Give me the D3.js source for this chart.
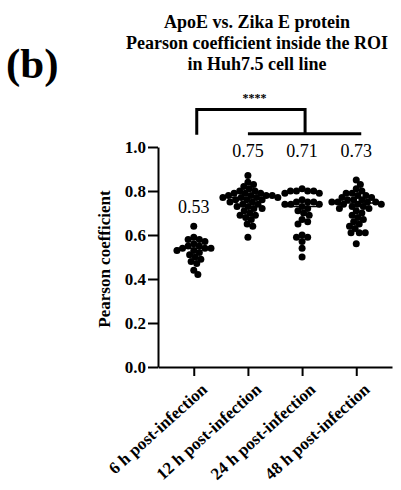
<!DOCTYPE html>
<html>
<head>
<meta charset="utf-8">
<script src="https://cdn.jsdelivr.net/npm/d3@7"></script>
<style>
  body { margin: 0; background: #fff; }
  text { font-family: "Liberation Serif", "Times New Roman", serif; }
</style>
</head>
<body>
<script>
// groups and values
var groups = ["6 h post-infection", "12 h post-infection", "24 h post-infection", "48 h post-infection"];
var meanLabels = ["0.53", "0.75", "0.71", "0.73"];
var centreLines = [0.54, 0.77, 0.73, 0.745];

var h6 = [0.64, 0.59, 0.58, 0.58, 0.57, 0.56, 0.55, 0.55, 0.54, 0.54, 0.54, 0.53, 0.53,
          0.52, 0.51, 0.50, 0.49, 0.48, 0.47, 0.44, 0.42];
var h12 = [0.87, 0.84, 0.83, 0.82, 0.81, 0.80, 0.80, 0.79, 0.79, 0.79, 0.78, 0.78, 0.78, 0.78,
           0.77, 0.77, 0.77, 0.77, 0.76, 0.76, 0.76, 0.75, 0.75, 0.74, 0.74, 0.73, 0.73,
           0.72, 0.72, 0.71, 0.70, 0.69, 0.69, 0.68, 0.67, 0.65, 0.64, 0.59];
var h24 = [0.81, 0.80, 0.80, 0.80, 0.80, 0.79, 0.79, 0.76, 0.75, 0.75, 0.75, 0.74, 0.74, 0.74,
           0.73, 0.72, 0.71, 0.70, 0.69, 0.67, 0.66, 0.65, 0.60, 0.59, 0.59, 0.57, 0.54, 0.50];
var h48 = [0.85, 0.83, 0.81, 0.80, 0.79, 0.79, 0.78, 0.78, 0.77, 0.77, 0.76, 0.76, 0.76,
           0.75, 0.75, 0.75, 0.75, 0.74, 0.74, 0.74, 0.73, 0.73, 0.72, 0.72, 0.71, 0.70,
           0.69, 0.68, 0.67, 0.66, 0.65, 0.64, 0.63, 0.61, 0.61, 0.61, 0.56];
var series = [h6, h12, h24, h48];

var yTicks = [0, 0.2, 0.4, 0.6, 0.8, 1.0];
var titleLines = ["ApoE vs. Zika E protein", "Pearson coefficient inside the ROI", "in Huh7.5 cell line"];

// significance bracket levels (in data units)
var bracketTop = 1.17, bracketLow = 1.06, starsLevel = 1.205;
var labelLevel = 0.955;

var W = 401, H = 490;
var svg = d3.select("body").append("svg")
    .attr("width", W)
    .attr("height", H);

var x = d3.scalePoint()
    .domain(groups)
    .range([158, 392])
    .padding(0.66);

var y = d3.scaleLinear()
    .domain([0, 1])
    .range([367, 147]);

// title
svg.append("text")
    .attr("x", 6).attr("y", 78)
    .attr("font-size", 43).attr("font-weight", "bold")
    .text("(b)");

svg.selectAll(".title").data(titleLines).enter().append("text")
    .attr("class", "title")
    .attr("x", 257)
    .attr("y", (d, i) => 28 + i * 21)
    .attr("text-anchor", "middle")
    .attr("font-size", 18).attr("font-weight", "bold")
    .text(d => d);

// axes
var yAxis = svg.append("g")
    .attr("transform", "translate(158,0)")
    .call(d3.axisLeft(y).tickValues(yTicks).tickFormat(d3.format(".1f")).tickSize(10).tickSizeOuter(0));
yAxis.select(".domain").attr("stroke-width", 2);
yAxis.selectAll(".tick line").attr("stroke-width", 2);
yAxis.selectAll(".tick text")
    .attr("font-size", 17).attr("font-weight", "bold")
    .attr("font-family", "Liberation Serif, serif")
    .attr("x", -12);

var xAxis = svg.append("g")
    .attr("transform", "translate(0,367)")
    .call(d3.axisBottom(x).tickSize(9).tickSizeOuter(0));
xAxis.select(".domain").attr("stroke-width", 2);
xAxis.selectAll(".tick line").attr("stroke-width", 2);
xAxis.selectAll(".tick text")
    .attr("font-size", 17).attr("font-weight", "bold")
    .attr("font-family", "Liberation Serif, serif")
    .attr("text-anchor", "end")
    .attr("dy", 0)
    .attr("transform", "translate(6,15) rotate(-42)");

svg.append("text")
    .attr("transform", "translate(110," + ((y(0) + y(1)) / 2 + 2) + ") rotate(-90)")
    .attr("text-anchor", "middle")
    .attr("font-size", 17).attr("font-weight", "bold")
    .text("Pearson coefficient");

// beeswarm placement
var r = 3.5, D = 2 * r * 0.86;
function swarm(vals) {
  var placed = [];
  vals.slice().sort((a, b) => b - a).forEach(v => {
    var py = y(v);
    var near = placed.filter(q => Math.abs(q.py - py) < D);
    var cands = [0];
    near.forEach(q => {
      var dx = Math.sqrt(D * D - (q.py - py) * (q.py - py));
      cands.push(q.dx + dx, q.dx - dx);
    });
    cands.sort((a, b) => Math.abs(a) - Math.abs(b));
    var best = cands.find(c => near.every(q => (c - q.dx) * (c - q.dx) + (q.py - py) * (q.py - py) >= D * D - 0.01));
    placed.push({v: v, py: py, dx: best});
  });
  return placed;
}

series.forEach((vals, i) => {
  var cx = x(groups[i]);
  var g = svg.append("g");
  g.selectAll("circle").data(swarm(vals)).enter().append("circle")
      .attr("cx", d => cx + d.dx)
      .attr("cy", d => d.py)
      .attr("r", r)
      .attr("fill", "#000");
  g.append("line")
      .attr("x1", cx - 18).attr("x2", cx + 18)
      .attr("y1", y(centreLines[i])).attr("y2", y(centreLines[i]))
      .attr("stroke", "#000").attr("stroke-width", 1.5);
  var top = d3.max(vals);
  var ly = top > 0.8 ? y(labelLevel) : y(top) - 13;
  svg.append("text")
      .attr("x", cx).attr("y", ly)
      .attr("text-anchor", "middle")
      .attr("font-size", 18)
      .text(meanLabels[i]);
});

// significance bracket
var x0 = x(groups[0]), x1 = x(groups[1]), x3 = x(groups[3]);
var mid = (x1 + x3) / 2 + 3;
svg.append("path")
    .attr("d", "M" + (x0 + 3) + "," + (y(bracketLow) + 1) + "V" + y(bracketTop) + "H" + mid + "V" + y(bracketLow))
    .attr("fill", "none").attr("stroke", "#000").attr("stroke-width", 3);
svg.append("line")
    .attr("x1", x1).attr("x2", x3 + 5)
    .attr("y1", y(bracketLow)).attr("y2", y(bracketLow))
    .attr("stroke", "#000").attr("stroke-width", 3);
svg.append("text")
    .attr("x", (x0 + mid) / 2 + 5).attr("y", y(starsLevel))
    .attr("text-anchor", "middle")
    .attr("font-size", 12).attr("font-weight", "bold")
    .text("****");
</script>
</body>
</html>
